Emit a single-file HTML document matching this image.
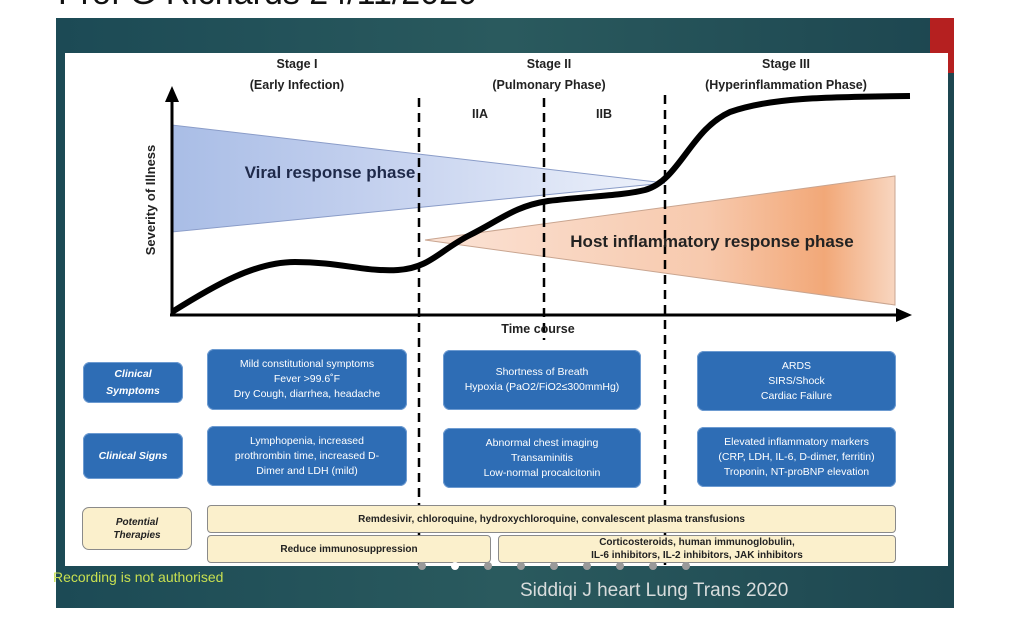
<!DOCTYPE html>
<html><head><meta charset="utf-8"><style>
body{margin:0;width:1024px;height:636px;background:#fff;overflow:hidden;position:relative;font-family:"Liberation Sans",sans-serif}
.a{position:absolute}
.bx{position:absolute;background:#2e6db5;color:#fff;border-radius:7px;display:flex;align-items:center;justify-content:center;text-align:center;font-size:10.5px;line-height:15px;box-shadow:0 0 0 1px #6d9bd1 inset}
.lb{font-style:italic;font-weight:bold;font-size:10.5px;line-height:17px}
.y{position:absolute;background:#fbf0cc;border:1.5px solid #8a8a8a;border-radius:4px;display:flex;align-items:center;justify-content:center;text-align:center;font-size:10px;font-weight:bold;color:#222;line-height:13px;box-sizing:border-box}
</style></head><body>
<div class="a" style="left:58px;top:-26px;font-size:34px;color:#111">Prof G Richards 24/11/2020</div>
<div class="a" style="left:56px;top:18px;width:898px;height:590px;background:linear-gradient(90deg,#1c4a55,#2a5a5e 50%,#1d4650)"></div>
<div class="a" style="left:930px;top:18px;width:24px;height:55px;background:#b52020"></div>
<div class="a" style="left:65px;top:53px;width:883px;height:513px;background:#fff"></div>
<svg class="a" style="left:0;top:0" width="1024" height="636">
<defs>
<linearGradient id="bl" x1="0" x2="1"><stop offset="0" stop-color="#a9bde6"/><stop offset="0.4" stop-color="#c3d0ee"/><stop offset="1" stop-color="#eef2fb"/></linearGradient>
<linearGradient id="or" x1="0" x2="1"><stop offset="0" stop-color="#fbe3d6"/><stop offset="0.6" stop-color="#f7c9ad"/><stop offset="0.85" stop-color="#f2a878"/><stop offset="1" stop-color="#f8d6c0"/></linearGradient>
</defs>
<polygon points="172,125 172,232 665,183" fill="url(#bl)" stroke="#8a9cc8" stroke-width="1"/>
<polygon points="425,240 895,176 895,305" fill="url(#or)" stroke="#c9a590" stroke-width="1"/>
<g stroke="#000" stroke-width="2.5" stroke-dasharray="9,6">
<line x1="419" y1="98" x2="419" y2="565"/><line x1="544" y1="98" x2="544" y2="340"/><line x1="665" y1="95" x2="665" y2="565"/></g>
<path d="M172,312 C215,285 255,262 295,262 C340,262 365,272 398,270 C430,268 440,250 470,235 C500,220 515,206 548,201 C590,196 620,196 645,190 C680,180 690,130 730,112 C770,98 820,97 910,96" fill="none" stroke="#000" stroke-width="6"/>
<line x1="172" y1="316" x2="172" y2="100" stroke="#000" stroke-width="3"/>
<polygon points="172,86 165,102 179,102" fill="#000"/>
<line x1="170" y1="315" x2="898" y2="315" stroke="#000" stroke-width="3"/>
<polygon points="912,315 896,308 896,322" fill="#000"/>
<text x="155" y="200" transform="rotate(-90 155 200)" text-anchor="middle" font-size="13" font-weight="bold" fill="#222" font-family="Liberation Sans">Severity of Illness</text>
<text x="538" y="333" text-anchor="middle" font-size="12.5" font-weight="bold" fill="#222" font-family="Liberation Sans">Time course</text>
<text x="330" y="178" text-anchor="middle" font-size="17" font-weight="bold" fill="#1f2a4a" font-family="Liberation Sans">Viral response phase</text>
<text x="712" y="247" text-anchor="middle" font-size="17" font-weight="bold" fill="#222" font-family="Liberation Sans">Host inflammatory response phase</text>
<g font-size="12.5" font-weight="bold" fill="#222" font-family="Liberation Sans" text-anchor="middle">
<text x="297" y="68">Stage I</text><text x="297" y="89">(Early Infection)</text>
<text x="549" y="68">Stage II</text><text x="549" y="89">(Pulmonary Phase)</text>
<text x="786" y="68">Stage III</text><text x="786" y="89">(Hyperinflammation Phase)</text>
<text x="480" y="118">IIA</text><text x="604" y="118">IIB</text></g>
</svg>
<div class="bx lb" style="left:83px;top:362px;width:100px;height:41px">Clinical<br>Symptoms</div>
<div class="bx" style="left:207px;top:349px;width:200px;height:61px">Mild constitutional symptoms<br>Fever &gt;99.6˚F<br>Dry Cough, diarrhea, headache</div>
<div class="bx" style="left:443px;top:350px;width:198px;height:60px">Shortness of Breath<br>Hypoxia (PaO2/FiO2≤300mmHg)</div>
<div class="bx" style="left:697px;top:351px;width:199px;height:60px">ARDS<br>SIRS/Shock<br>Cardiac Failure</div>
<div class="bx lb" style="left:83px;top:433px;width:100px;height:46px">Clinical Signs</div>
<div class="bx" style="left:207px;top:426px;width:200px;height:60px">Lymphopenia, increased<br>prothrombin time, increased D-<br>Dimer and LDH (mild)</div>
<div class="bx" style="left:443px;top:428px;width:198px;height:60px">Abnormal chest imaging<br>Transaminitis<br>Low-normal procalcitonin</div>
<div class="bx" style="left:697px;top:427px;width:199px;height:60px">Elevated inflammatory markers<br>(CRP, LDH, IL-6, D-dimer, ferritin)<br>Troponin, NT-proBNP elevation</div>
<div class="y" style="left:82px;top:507px;width:110px;height:43px;font-style:italic;border-radius:7px">Potential<br>Therapies</div>
<div class="y" style="left:207px;top:505px;width:689px;height:28px">Remdesivir, chloroquine, hydroxychloroquine, convalescent plasma transfusions</div>
<div class="y" style="left:207px;top:535px;width:284px;height:28px">Reduce immunosuppression</div>
<div class="y" style="left:498px;top:535px;width:398px;height:28px">Corticosteroids, human immunoglobulin,<br>IL-6 inhibitors, IL-2 inhibitors, JAK inhibitors</div>
<svg class="a" style="left:0;top:0" width="1024" height="636"><g fill="#9a9a9a">
<circle cx="422" cy="566" r="4"/><circle cx="455" cy="566" r="4" fill="#fff"/><circle cx="488" cy="566" r="4"/><circle cx="521" cy="566" r="4"/><circle cx="554" cy="566" r="4"/><circle cx="587" cy="566" r="4"/><circle cx="620" cy="566" r="4"/><circle cx="653" cy="566" r="4"/><circle cx="686" cy="566" r="4"/></g></svg>
<div class="a" style="left:53px;top:569px;font-size:14px;color:#c8e050">Recording is not authorised</div>
<div class="a" style="left:520px;top:580px;font-size:19px;color:#d8dcdc">Siddiqi J heart Lung Trans 2020</div>
</body></html>
